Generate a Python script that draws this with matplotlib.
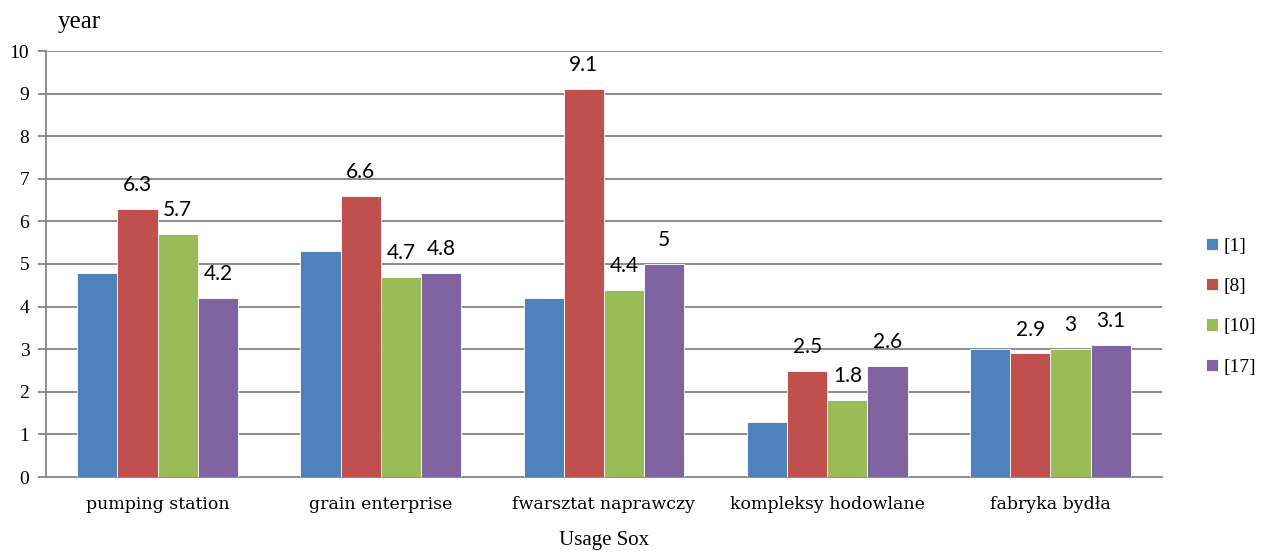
import matplotlib.pyplot as plt
import numpy as np

# usage time per facility type, by source
categories = ['pumping station', 'grain enterprise', 'fwarsztat naprawczy',
              'kompleksy hodowlane', 'fabryka bydła']
series_names = ['[1]', '[8]', '[10]', '[17]']
vals_1 = [4.8, 5.3, 4.2, 1.3, 3.0]
vals_8 = [6.3, 6.6, 9.1, 2.5, 2.9]
vals_10 = [5.7, 4.7, 4.4, 1.8, 3.0]
vals_17 = [4.2, 4.8, 5.0, 2.6, 3.1]
labelled = [False, True, True, True]  # series [1] has no value labels

colors = ['#4F81BD', '#C0504D', '#9BBB59', '#8064A2']

fig = plt.figure(figsize=(12.63, 5.6), dpi=100)
ax = fig.add_axes([46 / 1263, 1 - 477 / 560, (1162 - 46) / 1263, (477 - 51) / 560])

x = np.arange(len(categories))
w = 0.18
all_vals = [vals_1, vals_8, vals_10, vals_17]
for i, (vals, name) in enumerate(zip(all_vals, series_names)):
    pos = x + (i - 1.5) * w
    bars = ax.bar(pos, vals, w, color=colors[i], label=name,
                  edgecolor='white', linewidth=0.6, zorder=3)
    if labelled[i]:
        for b, v in zip(bars, vals):
            ax.annotate(f'{v:g}', (b.get_x() + b.get_width() / 2, v),
                        xytext=(0, 10), textcoords='offset points',
                        ha='center', va='bottom', fontsize=15,
                        family='Lato', zorder=4)

ax.set_ylim(0, 10)
ax.set_xlim(-0.5, len(categories) - 0.5)
ax.set_yticks(range(0, 11))
ax.yaxis.grid(True, color='#8c8c8c', linewidth=1.4, zorder=0)
ax.set_axisbelow(True)
for s in ['top', 'right']:
    ax.spines[s].set_visible(False)
ax.spines['left'].set_color('#8c8c8c')
ax.spines['left'].set_linewidth(1.4)
ax.spines['bottom'].set_color('#8c8c8c')
ax.spines['bottom'].set_linewidth(1.4)
ax.tick_params(axis='y', length=6, width=1.4, color='#8c8c8c', pad=6)
ax.tick_params(axis='x', length=0, pad=14)

ax.set_xticks(x)
ax.set_xticklabels(categories, family='DejaVu Serif', fontsize=12.5)
for t in ax.get_yticklabels():
    t.set_family('Liberation Serif')
    t.set_fontsize(14)

fig.text(58 / 1263, 1 - 22 / 560, 'year', family='Liberation Serif',
         fontsize=18, va='center', ha='left')
fig.text(604 / 1263, 1 - 540 / 560, 'Usage Sox', family='Liberation Serif',
         fontsize=15, va='center', ha='center')

leg = ax.legend(loc='center left', bbox_to_anchor=(1.024, 0.40), frameon=False,
                prop={'family': 'Liberation Serif', 'size': 14},
                handlelength=0.6, handleheight=0.6, handletextpad=0.3,
                labelspacing=1.2)

fig.savefig('out.png', dpi=100)
